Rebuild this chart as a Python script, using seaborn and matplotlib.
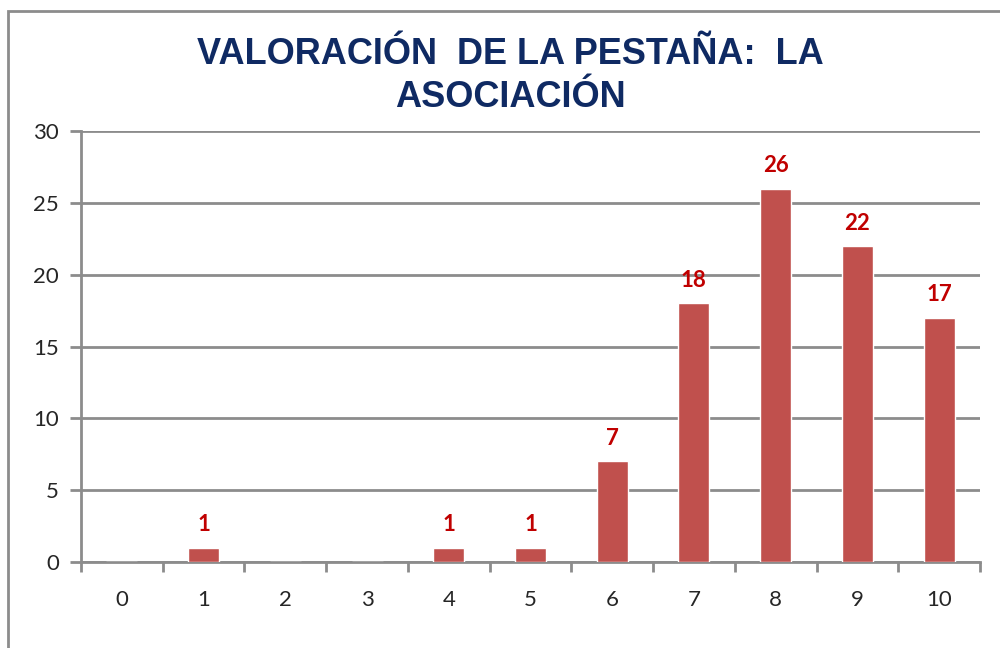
import matplotlib
matplotlib.use('Agg')
from matplotlib import pyplot as plt
from matplotlib.patches import Rectangle
import seaborn as sns
import pandas as pd

# datos del gráfico
notas = ['0', '1', '2', '3', '4', '5', '6', '7', '8', '9', '10']
respuestas = [0, 1, 0, 0, 1, 1, 7, 18, 26, 22, 17]
titulo = 'VALORACIÓN  DE LA PESTAÑA:  LA\nASOCIACIÓN'

sns.set_theme(style='white')
plt.rcParams['font.family'] = ['Lato', 'DejaVu Sans']

df = pd.DataFrame({'nota': notas, 'respuestas': respuestas})

fig = plt.figure(figsize=(10, 6.48), dpi=100)
ax = fig.add_axes([0.081, 0.1327, 0.899, 0.665])

gris = '#8c8c8c'
sns.barplot(data=df, x='nota', y='respuestas', color='#C0504D', saturation=1,
            width=0.38, ax=ax, zorder=3)

ax.set_ylim(0, 30)
ax.set_xlim(-0.5, len(notas) - 0.5)
ax.set_yticks(range(0, 31, 5))
ax.yaxis.grid(True, color=gris, linewidth=2, zorder=0)
ax.set_axisbelow(True)
ax.set_xlabel('')
ax.set_ylabel('')

# ejes y marcas
for lado in ['top', 'right']:
    ax.spines[lado].set_visible(False)
for lado in ['left', 'bottom']:
    ax.spines[lado].set_color(gris)
    ax.spines[lado].set_linewidth(2)
ax.set_xticks([i + 0.5 for i in range(-1, len(notas))], minor=True)
ax.tick_params(axis='x', which='major', length=0, pad=20, labelsize=16, labelcolor='#262626')
ax.tick_params(axis='x', which='minor', length=7, width=2, color=gris, direction='out', bottom=True)
ax.tick_params(axis='y', length=8, width=2, color=gris, direction='out', left=True,
               pad=8, labelsize=16, labelcolor='#262626')

# etiquetas de valor
for i, v in enumerate(respuestas):
    if v > 0:
        ax.annotate(str(v), (i, v), xytext=(0, 9), textcoords='offset points',
                    ha='center', va='bottom', color='#C00000', fontsize=16,
                    fontweight='bold')

fig.text(0.51, 0.883, titulo, ha='center', va='center', fontsize=26,
         fontweight='bold', color='#0F2A63', family=['Liberation Sans', 'DejaVu Sans'],
         linespacing=1.3)

# marco del gráfico
fig.patches.append(Rectangle((0.008, -0.1), 1.1, 1.083, transform=fig.transFigure,
                             fill=False, edgecolor=gris, linewidth=2))

fig.savefig('out.png', dpi=100)
